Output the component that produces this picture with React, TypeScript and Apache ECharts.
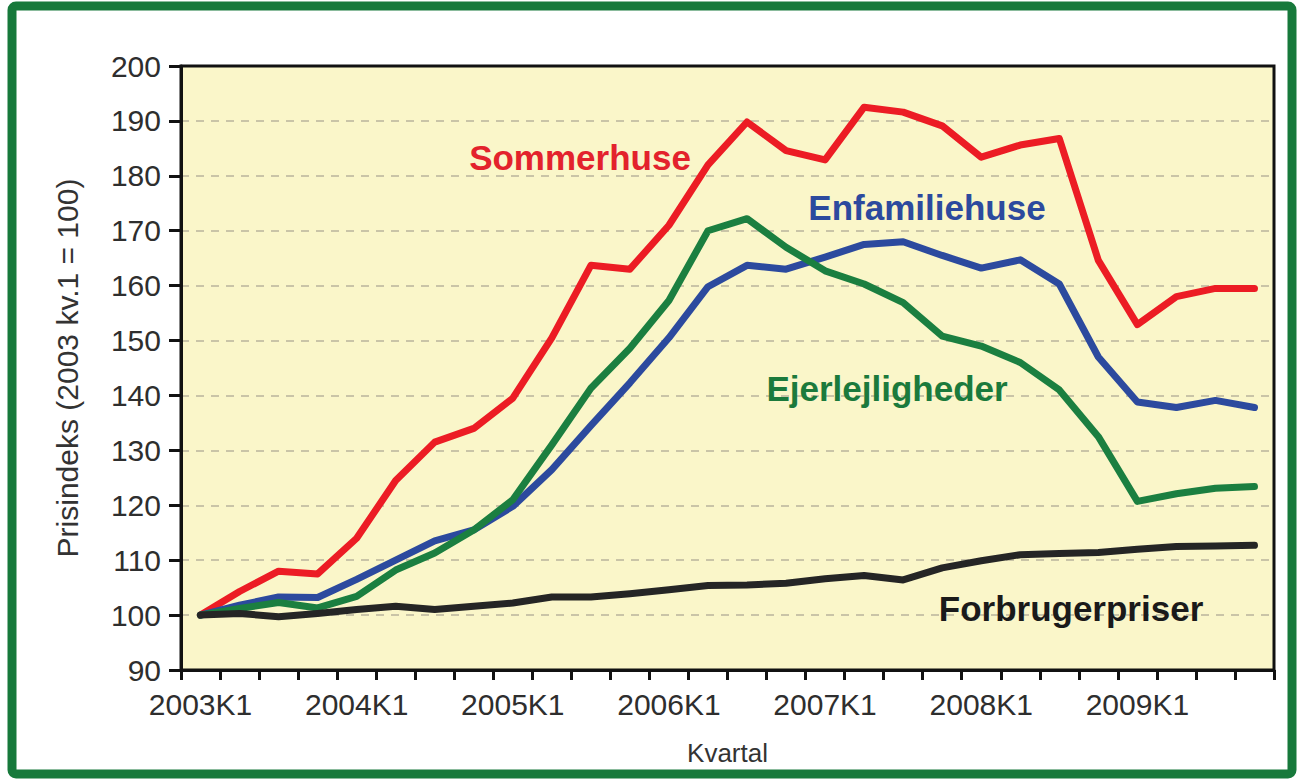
import React, { useEffect, useRef } from "react";
import * as echarts from "echarts";

const years = [2003, 2004, 2005, 2006, 2007, 2008, 2009];
const quarters = years.flatMap((y) => [1, 2, 3, 4].map((q) => `${y}K${q}`));

const sommerhuse = [100, 104.3, 108, 107.5, 114, 124.5, 131.5, 134, 139.5, 150.5, 163.7, 163, 171, 182, 189.8, 184.6, 182.9, 192.5, 191.6, 189.1, 183.4, 185.6, 186.8, 164.6, 152.9, 158, 159.5, 159.5];
const enfamiliehuse = [100, 101.8, 103.3, 103.2, 106.5, 110, 113.5, 115.5, 119.8, 126.5, 134.5, 142.3, 150.5, 159.8, 163.7, 163, 165.2, 167.5, 168, 165.5, 163.2, 164.7, 160.3, 147, 138.8, 137.8, 139.1, 137.8];
const ejerlejligheder = [100, 101.2, 102.3, 101.3, 103.4, 108.2, 111.3, 115.5, 121, 131, 141.3, 148.6, 157.3, 170, 172.2, 167, 162.7, 160.3, 156.9, 150.8, 149, 146, 141, 132.5, 120.7, 122.1, 123.1, 123.4];
const forbrugerpriser = [100, 100.3, 99.7, 100.3, 101, 101.6, 101, 101.6, 102.2, 103.3, 103.3, 103.9, 104.6, 105.4, 105.5, 105.8, 106.6, 107.2, 106.4, 108.6, 109.9, 111, 111.2, 111.4, 112, 112.5, 112.6, 112.7];

const seriesNames = ["Sommerhuse", "Enfamiliehuse", "Ejerlejligheder", "Forbrugerpriser"];
const seriesColors = ["#ec1c24", "#2c4a9e", "#1b7f40", "#252525"];

const FONT = "'Liberation Sans', Arial, sans-serif";

export default function App() {
  const ref = useRef<HTMLDivElement>(null);
  useEffect(() => {
    if (!ref.current) return;
    const chart = echarts.init(ref.current, null, { renderer: "svg" });
    const dataSets = [sommerhuse, enfamiliehuse, ejerlejligheder, forbrugerpriser];
    chart.setOption({
      animation: false,
      backgroundColor: "#ffffff",
      grid: {
        left: 181,
        top: 66,
        right: 27,
        bottom: 110,
        show: true,
        backgroundColor: "#faf6c9",
        borderColor: "#111111",
        borderWidth: 3,
      },
      xAxis: {
        type: "category",
        data: quarters,
        boundaryGap: true,
        name: "Kvartal",
        nameLocation: "middle",
        nameGap: 70,
        nameTextStyle: { fontSize: 26, color: "#333333", fontFamily: FONT },
        axisLine: { lineStyle: { color: "#111111", width: 3 } },
        axisTick: { show: true, interval: 0, length: 10, lineStyle: { color: "#111111", width: 3 } },
        axisLabel: { interval: 3, fontSize: 30, color: "#2e2e2e", fontFamily: FONT, margin: 19 },
        splitLine: { show: false },
      },
      yAxis: {
        type: "value",
        min: 90,
        max: 200,
        interval: 10,
        name: "Prisindeks (2003 kv.1 = 100)",
        nameLocation: "middle",
        nameGap: 99,
        nameTextStyle: { fontSize: 30, color: "#333333", fontFamily: FONT },
        axisLine: { show: true, lineStyle: { color: "#111111", width: 3 } },
        axisTick: { show: true, length: 12, lineStyle: { color: "#111111", width: 3 } },
        axisLabel: { fontSize: 30, color: "#2e2e2e", fontFamily: FONT, margin: 20 },
        splitLine: { show: true, showMinLine: false, showMaxLine: false, lineStyle: { color: "#b9b49c", width: 1.5, type: [8, 7] } },
      },
      series: dataSets.map((d, i) => ({
        name: seriesNames[i],
        type: "line",
        data: d,
        showSymbol: false,
        symbol: "none",
        lineStyle: { color: seriesColors[i], width: 7, cap: "round", join: "round" },
        itemStyle: { color: seriesColors[i] },
        z: 2 + i,
      })),
      graphic: [
        {
          type: "rect",
          shape: { x: 12, y: 6, width: 1280, height: 768, r: 4 },
          style: { fill: "none", stroke: "#17793b", lineWidth: 9 },
          z: 100,
        },
        { type: "text", x: 580, y: 157, style: { text: "Sommerhuse", fill: "#e3222c", font: `bold 35px ${FONT}`, align: "center", verticalAlign: "middle" }, z: 50 },
        { type: "text", x: 927, y: 207, style: { text: "Enfamiliehuse", fill: "#2c4a9e", font: `bold 35px ${FONT}`, align: "center", verticalAlign: "middle" }, z: 50 },
        { type: "text", x: 887, y: 388, style: { text: "Ejerlejligheder", fill: "#1b7a3c", font: `bold 35px ${FONT}`, align: "center", verticalAlign: "middle" }, z: 50 },
        { type: "text", x: 1071, y: 608, style: { text: "Forbrugerpriser", fill: "#1a1a1a", font: `bold 35px ${FONT}`, align: "center", verticalAlign: "middle" }, z: 50 },
      ],
    });
    return () => chart.dispose();
  }, []);
  return <div ref={ref} style={{ position: "absolute", left: 0, top: 0, width: 1301, height: 780 }} />;
}
